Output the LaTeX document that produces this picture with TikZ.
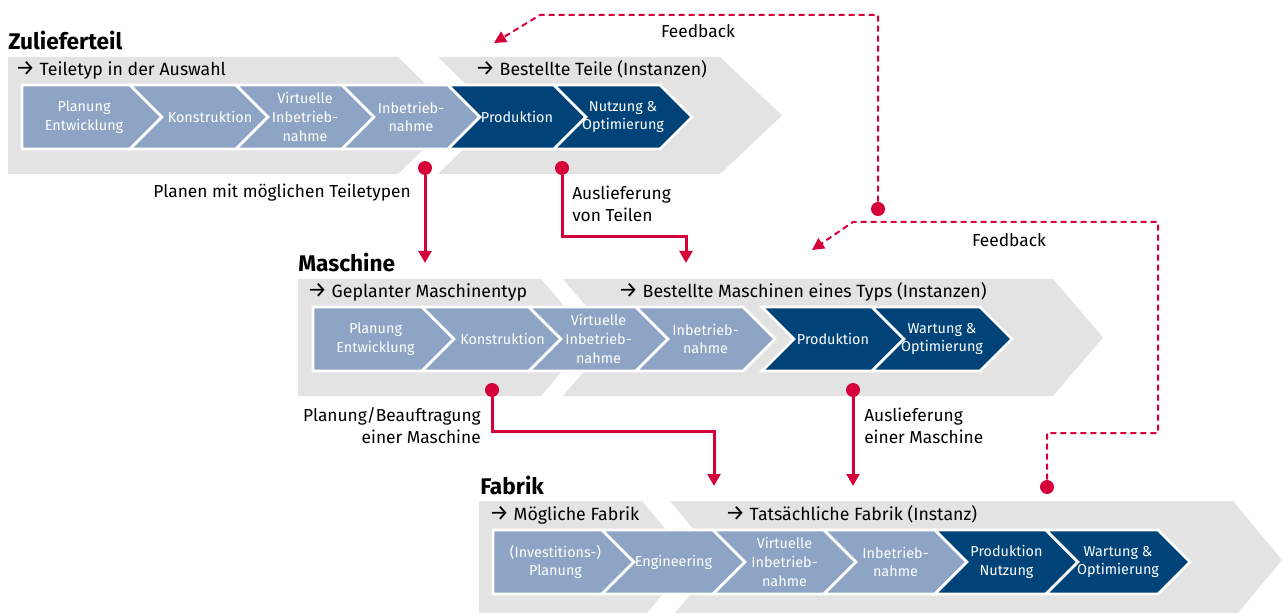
\documentclass[tikz,border=0pt]{standalone}
\usepackage{fontspec}
\setmainfont{Fira Sans}
\usetikzlibrary{arrows.meta}

\definecolor{bandgrey}{RGB}{227,227,227}
\definecolor{planblue}{RGB}{141,164,196}
\definecolor{darkblue}{RGB}{0,67,120}
\definecolor{signalred}{RGB}{213,0,58}

\tikzset{
  band/.style = {fill=bandgrey},
  stage/.style = {fill=planblue, draw=white, line width=2pt},
  stagedark/.style = {stage, fill=darkblue},
  stagetext/.style = {text=white, align=center, inner sep=0pt,
    font=\fontsize{10.8}{14}\selectfont},
  rowtitle/.style = {anchor=base west, inner sep=0pt,
    font=\fontsize{17}{20}\selectfont\bfseries},
  phasetext/.style = {anchor=base west, inner sep=0pt,
    font=\fontsize{13.3}{16}\selectfont},
  note/.style = {inner sep=0pt, font=\fontsize{13}{16.5}\selectfont},
  reddot/.style = {circle, fill=signalred, minimum size=10.5pt, inner sep=0pt},
  flow/.style = {draw=signalred, line width=2.25pt,
    -{Triangle[width=9.5pt,length=9pt]}},
  feedback/.style = {draw=signalred, line width=1.5pt,
    dash pattern=on 4.5pt off 3pt, -{Triangle[width=9pt,length=9pt]}}
}

\newcommand{\phasearrow}{{\fontsize{16.5}{16}\selectfont →}\hspace{3.5pt}}

% [#1 text shift] #2 style, #3 name, #4 left, #5 right, #6 top, #7 notch, #8 text
\newcommand{\stagebox}[8][0]{%
  \draw[#2] (#4,#6) -- (#5,#6) -- ++(32,32) -- ++(-32,32)
    -- (#4,#6+64) -- ++(#7,-32) -- cycle;
  \node[stagetext] (#3) at ({(#4+#5)/2+8+#7/4+#1},#6+32) {#8};
}

\begin{document}
\begin{tikzpicture}[x=0.75pt, y=-0.75pt]
  \useasboundingbox (0,0) rectangle (1282,613);

  % grey bands
  \fill[band] (8,57) -- (398,57) -- (458,115.5) -- (398,174) -- (8,174) -- cycle;
  \fill[band] (438,57) -- (720,57) -- (782,115.5) -- (720,174) -- (438,174)
    -- (498,115.5) -- cycle;
  \fill[band] (298,279) -- (541,279) -- (591,337.5) -- (541,396) -- (298,396) -- cycle;
  \fill[band] (563,279) -- (1053,279) -- (1103,337.5) -- (1053,396) -- (563,396)
    -- (613,337.5) -- cycle;
  \fill[band] (479,501) -- (642,501) -- (691,560) -- (642,619) -- (479,619) -- cycle;
  \fill[band] (670,501) -- (1233,501) -- (1282,560) -- (1233,619) -- (670,619)
    -- (719,560) -- cycle;

  % Zulieferteil
  \node[rowtitle] (zul) at (8,50) {Zulieferteil};
  \node[phasetext] (zulA) at (15,76) {\phasearrow Teiletyp in der Auswahl};
  \node[phasetext] (zulB) at (475,76) {\phasearrow Bestellte Teile (Instanzen)};
  \stagebox{stage}{z1}{22}{130}{85}{0}{Planung\\Entwicklung}
  \stagebox[11]{stage}{z2}{130}{236}{85}{32}{Konstruktion}
  \stagebox{stage}{z3}{236}{342}{85}{32}{Virtuelle\\Inbetrieb-\\nahme}
  \stagebox{stage}{z4}{342}{448}{85}{32}{Inbetrieb-\\nahme}
  \stagebox{stagedark}{z5}{448}{554}{85}{32}{Produktion}
  \stagebox{stagedark}{z6}{554}{660}{85}{32}{Nutzung \&\\Optimierung}

  % Maschine
  \node[rowtitle] (mas) at (298,272) {Maschine};
  \node[phasetext] (masA) at (307,297) {\phasearrow Geplanter Maschinentyp};
  \node[phasetext] (masB) at (618,297) {\phasearrow Bestellte Maschinen eines Typs (Instanzen)};
  \stagebox{stage}{m1}{313}{422}{307}{0}{Planung\\Entwicklung}
  \stagebox[11]{stage}{m2}{422}{529}{307}{32}{Konstruktion}
  \stagebox{stage}{m3}{529}{636}{307}{32}{Virtuelle\\Inbetrieb-\\nahme}
  \stagebox{stage}{m4}{636}{743}{307}{32}{Inbetrieb-\\nahme}
  \stagebox{stagedark}{m5}{762}{872}{307}{32}{Produktion}
  \stagebox{stagedark}{m6}{872}{980}{307}{32}{Wartung \&\\Optimierung}

  % Fabrik
  \node[rowtitle] (fab) at (480,494) {Fabrik};
  \node[phasetext] (fabA) at (489,520) {\phasearrow Mögliche Fabrik};
  \node[phasetext] (fabB) at (725,520) {\phasearrow Tatsächliche Fabrik (Instanz)};
  \stagebox{stage}{f1}{493}{602}{530}{0}{(Investitions-)\\Planung}
  \stagebox{stage}{f2}{602}{713}{530}{32}{Engineering}
  \stagebox{stage}{f3}{713}{824}{530}{32}{Virtuelle\\Inbetrieb-\\nahme}
  \stagebox{stage}{f4}{824}{935}{530}{32}{Inbetrieb-\\nahme}
  \stagebox{stagedark}{f5}{935}{1046}{530}{32}{Produktion\\Nutzung}
  \stagebox{stagedark}{f6}{1046}{1158}{530}{32}{Wartung \&\\Optimierung}

  % deliveries
  \node[reddot] (d1) at (425,168) {};
  \coordinate (t1) at (425,263);
  \draw[flow] (d1) -- (t1);
  \node[note, anchor=east] (n1) at (411,193) {Planen mit möglichen Teiletypen};

  \node[reddot] (d2) at (562,168) {};
  \coordinate (k2) at (686,237);
  \coordinate (t2) at (686,263);
  \draw[flow] (d2) |- (k2) -- (t2);
  \node[note, anchor=west, align=left] (n2) at (572,204) {Auslieferung\\von Teilen};

  \node[reddot] (d3) at (492,390) {};
  \coordinate (k3) at (714,431);
  \coordinate (t3) at (714,486);
  \draw[flow] (d3) |- (k3) -- (t3);
  \node[note, anchor=east, align=right] (n3) at (481,426) {Planung/Beauftragung\\einer Maschine};

  \node[reddot] (d4) at (853,390) {};
  \coordinate (t4) at (853,486);
  \draw[flow] (d4) -- (t4);
  \node[note, anchor=west, align=left] (n4) at (864,426) {Auslieferung\\einer Maschine};

  % feedback loops
  \node[reddot] (fa) at (878,209) {};
  \coordinate (fak) at (540,15);
  \coordinate (fat) at (494,43);
  \draw[feedback] (fa) |- (fak) -- (fat);
  \node[note] (n5) at (698,31) {Feedback};

  \node[reddot] (fb) at (1047,487) {};
  \coordinate (fbk1) at (1158,433);
  \coordinate (fbk2) at (853,222);
  \coordinate (fbt) at (812,250);
  \draw[feedback] (fb) |- (fbk1) |- (fbk2) -- (fbt);
  \node[note] (n6) at (1009,240) {Feedback};
\end{tikzpicture}
\end{document}
